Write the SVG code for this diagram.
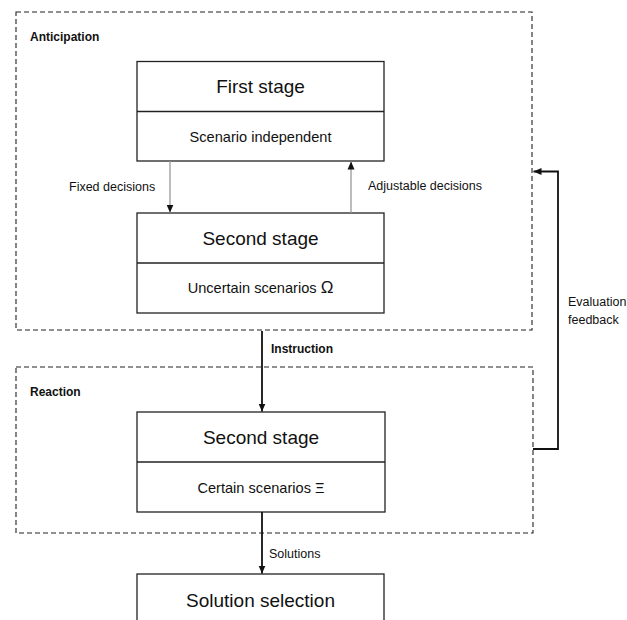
<svg xmlns="http://www.w3.org/2000/svg" width="627" height="620" viewBox="0 0 627 620">
<defs>
<style>
text{font-family:"Liberation Sans",Arial,sans-serif;fill:#111}
.title{font-size:19px;text-anchor:middle}
.sub{font-size:14.6px;text-anchor:middle}
.lbl{font-size:12.5px}
.bold{font-size:12px;font-weight:bold}
.box{fill:#fff;stroke:#222;stroke-width:1.3}
.div{stroke:#222;stroke-width:1.3}
.frame{fill:none;stroke:#222;stroke-width:1.1;stroke-dasharray:5 3}
.thin{stroke:#999;stroke-width:1.3;fill:none}
.thick{stroke:#111;stroke-width:1.8;fill:none}
.sym{font-size:17px}
</style>
<marker id="ah" markerUnits="userSpaceOnUse" markerWidth="10" markerHeight="10" viewBox="0 0 10 10" refX="8" refY="5" orient="auto">
<path d="M0,1.5 L8,5 L0,8.5 Z" fill="#111"/>
</marker>
</defs>
<rect width="627" height="620" fill="#fff"/>

<g id="anticipation">
<rect class="frame" x="16" y="12" width="516" height="318"/>
<text class="bold" x="30" y="41">Anticipation</text>
</g>
<g id="reaction">
<rect class="frame" x="16" y="367" width="517" height="166"/>
<text class="bold" x="30" y="396">Reaction</text>
</g>

<g id="first-stage">
<rect class="box" x="137" y="61.5" width="247" height="99.5"/>
<line class="div" x1="137" y1="111.5" x2="384" y2="111.5"/>
<text class="title" x="260.5" y="93">First stage</text>
<text class="sub" x="260.5" y="141.5">Scenario independent</text>
</g>

<g id="second-stage-uncertain">
<rect class="box" x="137" y="213" width="247" height="100"/>
<line class="div" x1="137" y1="263" x2="384" y2="263"/>
<text class="title" x="260.5" y="245">Second stage</text>
<text class="sub" x="260.5" y="293">Uncertain scenarios <tspan class="sym">Ω</tspan></text>
</g>

<g id="second-stage-certain">
<rect class="box" x="137" y="412" width="248" height="100"/>
<line class="div" x1="137" y1="462" x2="385" y2="462"/>
<text class="title" x="261" y="443.5">Second stage</text>
<text class="sub" x="261" y="492.5">Certain scenarios Ξ</text>
</g>

<g id="solution-selection">
<rect class="box" x="137" y="574" width="247" height="60"/>
<text class="title" x="260.5" y="606.5">Solution selection</text>
</g>

<g id="connectors">
<line class="thin" x1="170" y1="161" x2="170" y2="212.5" marker-end="url(#ah)"/>
<line class="thin" x1="351" y1="213" x2="351" y2="161.5" marker-end="url(#ah)"/>
<line class="thick" x1="262" y1="331" x2="262" y2="411.5" marker-end="url(#ah)"/>
<line class="thick" x1="262" y1="512" x2="262" y2="573.5" marker-end="url(#ah)"/>
<path class="thick" d="M533,449 H558 V171.5 H533.5" marker-end="url(#ah)"/>
<text class="lbl" x="69" y="191">Fixed decisions</text>
<text class="lbl" x="368" y="190">Adjustable decisions</text>
<text class="bold" x="271" y="353">Instruction</text>
<text class="lbl" x="269" y="558">Solutions</text>
<text class="lbl" x="568" y="306">Evaluation</text>
<text class="lbl" x="568" y="324">feedback</text>
</g>
</svg>
